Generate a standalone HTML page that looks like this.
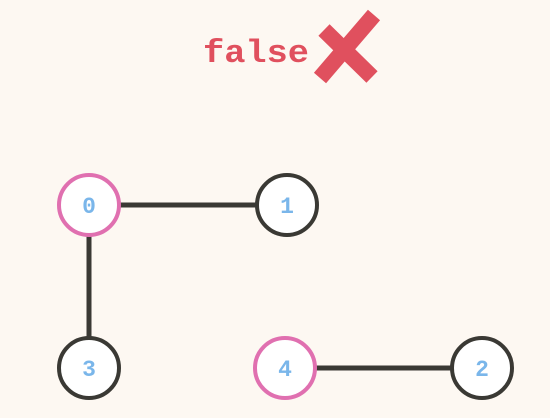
<!DOCTYPE html>
<html><head><style>
html,body{margin:0;padding:0;background:#fdf8f2;}
svg{display:block}
</style></head><body>
<svg width="550" height="418" viewBox="0 0 550 418" xmlns="http://www.w3.org/2000/svg">
<rect width="550" height="418" fill="#fdf8f2"/>
<text x="203" y="62" font-family="Liberation Mono, monospace" font-weight="bold" font-size="32" fill="#e0505e" textLength="106" lengthAdjust="spacingAndGlyphs">false</text>
<g stroke="#e0505e" stroke-width="16" stroke-linecap="butt">
<line x1="324" y1="30" x2="372" y2="77"/>
<line x1="374" y1="15" x2="320" y2="78"/>
</g>
<g stroke="#3a3934" stroke-width="5">
<line x1="89" y1="205" x2="287" y2="205"/>
<line x1="89" y1="205" x2="89" y2="368"/>
<line x1="285" y1="368" x2="482" y2="368"/>
</g>
<g stroke-width="4" fill="#fff">
<circle cx="89" cy="205" r="30" stroke="#e070b0"/>
<circle cx="287" cy="205" r="30" stroke="#3a3934"/>
<circle cx="89" cy="368" r="30" stroke="#3a3934"/>
<circle cx="285" cy="368" r="30" stroke="#e070b0"/>
<circle cx="482" cy="368" r="30" stroke="#3a3934"/>
</g>
<g font-family="Liberation Mono, monospace" font-weight="bold" font-size="23" fill="#7ab6ea" text-anchor="middle">
<text x="89" y="213">0</text>
<text x="287" y="213">1</text>
<text x="89" y="376">3</text>
<text x="285" y="376">4</text>
<text x="482" y="376">2</text>
</g>
</svg>
</body></html>
